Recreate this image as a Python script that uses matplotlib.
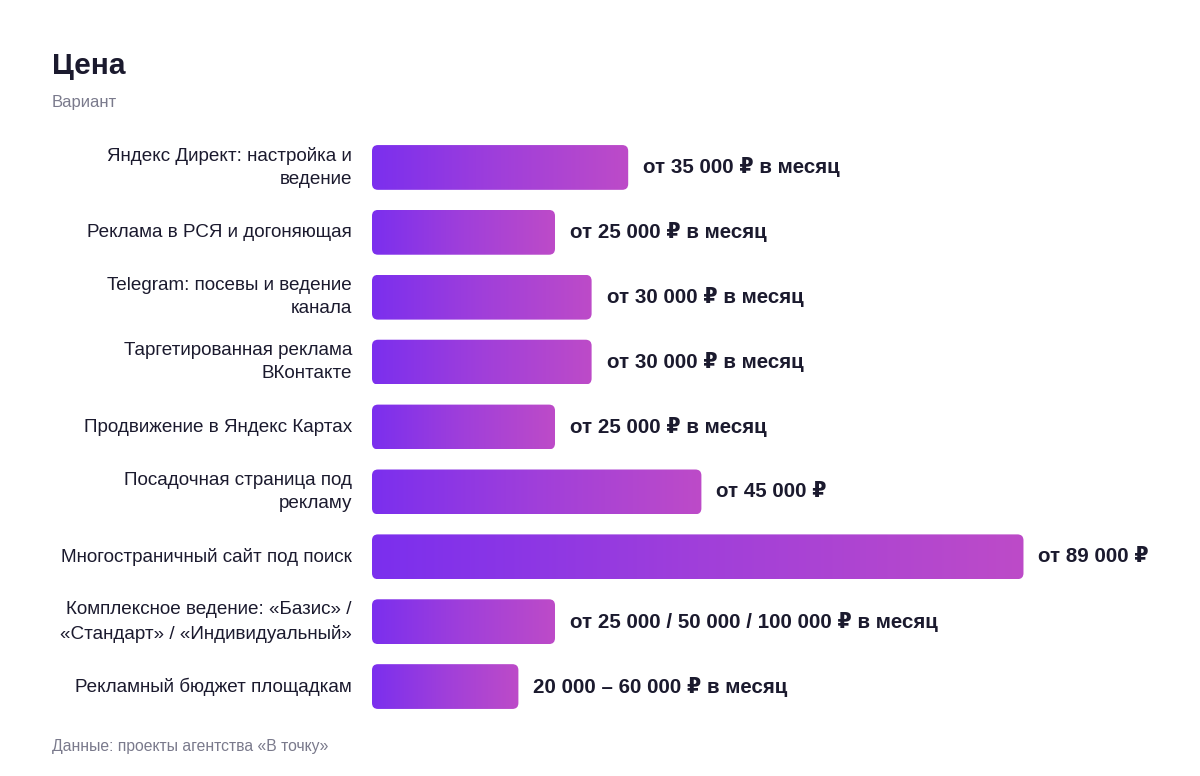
import numpy as np
import matplotlib
matplotlib.use("Agg")
import matplotlib.pyplot as plt
from matplotlib.patches import FancyBboxPatch
from matplotlib.colors import LinearSegmentedColormap

plt.rcParams['font.family'] = ['Liberation Sans', 'DejaVu Sans']

categories = [
    "Яндекс Директ: настройка и\nведение",
    "Реклама в РСЯ и догоняющая",
    "Telegram: посевы и ведение\nканала",
    "Таргетированная реклама\nВКонтакте",
    "Продвижение в Яндекс Картах",
    "Посадочная страница под\nрекламу",
    "Многостраничный сайт под поиск",
    "Комплексное ведение: «Базис» /\n«Стандарт» / «Индивидуальный»",
    "Рекламный бюджет площадкам",
]
values = [35000, 25000, 30000, 30000, 25000, 45000, 89000, 25000, 20000]
value_labels = [
    "от 35 000 ₽ в месяц",
    "от 25 000 ₽ в месяц",
    "от 30 000 ₽ в месяц",
    "от 30 000 ₽ в месяц",
    "от 25 000 ₽ в месяц",
    "от 45 000 ₽",
    "от 89 000 ₽",
    "от 25 000 / 50 000 / 100 000 ₽ в месяц",
    "20 000 – 60 000 ₽ в месяц",
]

W, H = 1200, 776
fig = plt.figure(figsize=(W / 100, H / 100), dpi=100)
fig.patch.set_facecolor('white')

# axes placed in pixels: zero at x=372, ~7.32 px per 1000
left_px, right_px = 372, 1180
top_px, bot_px = 135, 719
ax = fig.add_axes([left_px / W, 1 - bot_px / H, (right_px - left_px) / W, (bot_px - top_px) / H])
ax.set_xlim(0, (right_px - left_px) / 7.32 * 1000)
n = len(values)
ax.set_ylim(n - 0.5, -0.5)
ax.axis('off')

cmap = LinearSegmentedColormap.from_list('grad', ['#7B2FEE', '#A03FDA', '#BD4BC8'])
grad = np.linspace(0, 1, 256).reshape(1, -1)

ypos = np.arange(n)
bars = ax.barh(ypos, values, height=0.69, color='none', edgecolor='none')

# data units per pixel, for rounded corners
x_per_px = ax.get_xlim()[1] / (right_px - left_px)
y_per_px = n / (bot_px - top_px)
radius_px = 6

for bar, lab in zip(bars, value_labels):
    x0, y0 = bar.get_x(), bar.get_y()
    w, h = bar.get_width(), bar.get_height()
    patch = FancyBboxPatch((x0, y0), w, h,
                           boxstyle="round,pad=0,rounding_size=%f" % (radius_px * x_per_px),
                           mutation_aspect=y_per_px / x_per_px,
                           facecolor='none', edgecolor='none')
    ax.add_patch(patch)
    im = ax.imshow(grad, cmap=cmap, extent=(x0, x0 + w, y0 + h, y0),
                   aspect='auto', interpolation='bilinear', zorder=2)
    im.set_clip_path(patch)
    ax.text(x0 + w + 15 * x_per_px, y0 + h / 2, lab, va='center', ha='left',
            fontsize=14.8, fontweight='bold', color='#1b1a2e')

for y, cat in zip(ypos, categories):
    ax.text(-20 * x_per_px, y, cat, ha='right', va='center', fontsize=13.6,
            color='#1b1a2e', linespacing=1.5)

fig.text(52 / W, 1 - 66 / H, "Цена", fontsize=21.5, fontweight='bold',
         color='#1b1a2e', va='center', ha='left')
fig.text(52 / W, 1 - 102 / H, "Вариант", fontsize=12,
         color='#7a7a8c', va='center', ha='left')
fig.text(52 / W, 1 - 747 / H, "Данные: проекты агентства «В точку»", fontsize=11.3,
         color='#7a7a8c', va='center', ha='left')

ax.set_xlim(0, (right_px - left_px) / 7.32 * 1000)
ax.set_ylim(n - 0.5, -0.5)

fig.savefig('out.png', dpi=100)
